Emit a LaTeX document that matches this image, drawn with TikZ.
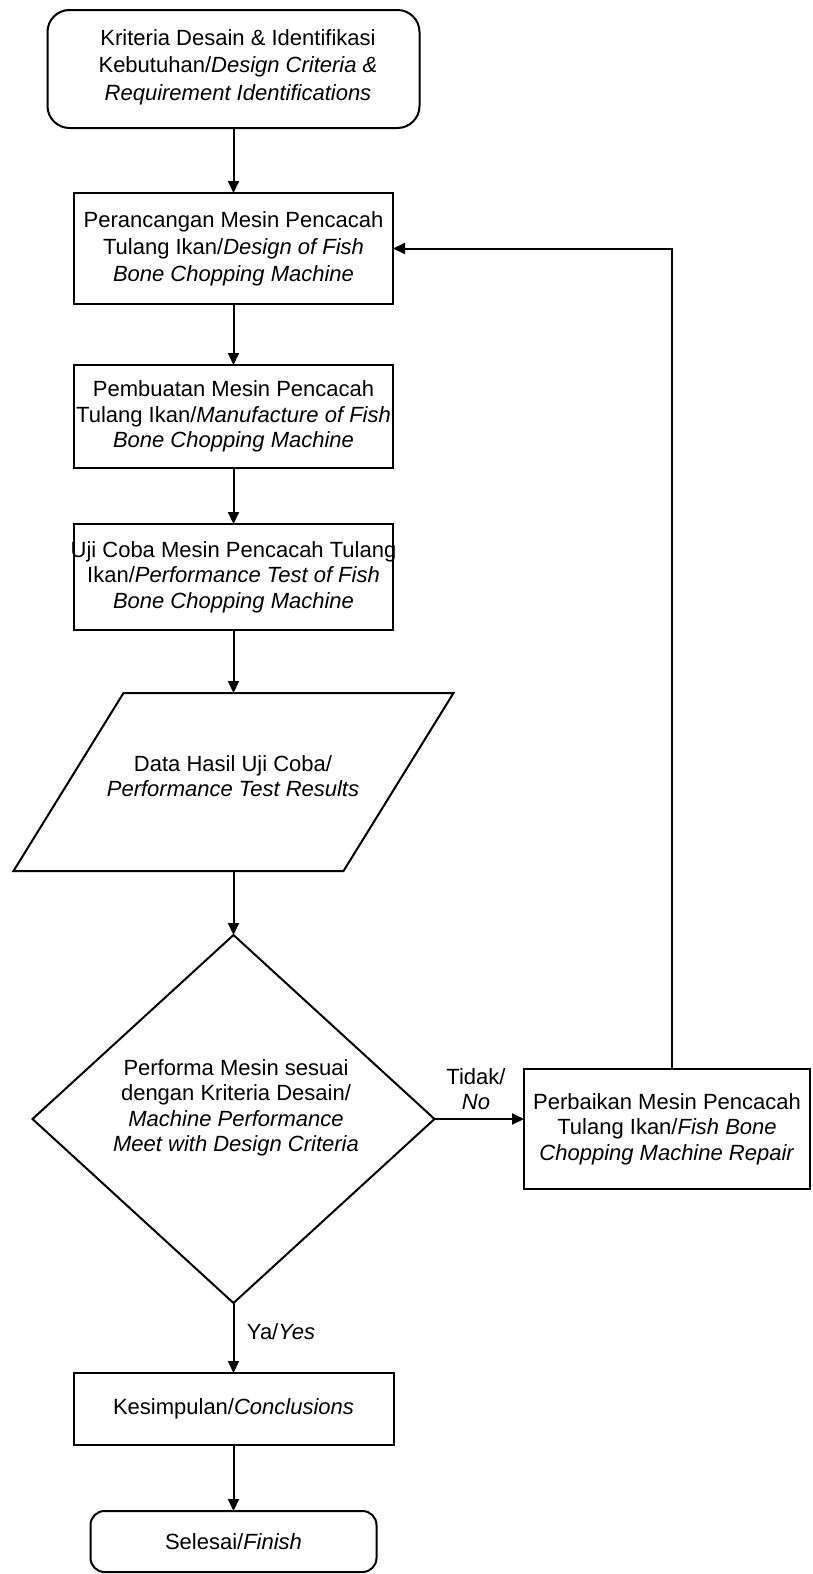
\documentclass[tikz,border=0pt]{standalone}
\usepackage{fontspec}
\setmainfont{Liberation Sans}
\usetikzlibrary{arrows.meta,shapes.geometric}
\begin{document}
\begin{tikzpicture}[x=1pt,y=-1pt,
  every node/.style={inner sep=0pt, outer sep=0pt, font=\fontsize{22}{25.5}\selectfont},
  box/.style={draw, rectangle, line width=2pt, align=center},
  ghost/.style={rectangle, align=center},
  arr/.style={line width=2pt, -{Triangle[length=12pt,width=11pt]}},
  plain/.style={line width=2pt, line join=miter}]
\useasboundingbox (0,0) rectangle (813,1574);
\fill[white] (0,0) rectangle (813,1574);

% start
\node[box, rounded corners=22pt, minimum width=372pt, minimum height=118pt] (start) at (233.5,69) {};
\node[ghost, font=\fontsize{22}{27.5}\selectfont] (starttext) at (238,67)
  {Kriteria Desain \& Identifikasi\\Kebutuhan/\textit{Design Criteria \&}\\\textit{Requirement Identifications}};
% process boxes
\node[box, minimum width=319pt, minimum height=111pt, font=\fontsize{22}{27}\selectfont] (design) at (233.5,248.5)
  {Perancangan Mesin Pencacah\\Tulang Ikan/\textit{Design of Fish}\\\textit{Bone Chopping Machine}};
\node[box, minimum width=319pt, minimum height=103pt] (make) at (233.5,416.5) {};
\node[ghost] (maketext) at (233.5,416.5)
  {Pembuatan Mesin Pencacah\\Tulang Ikan/\textit{Manufacture of Fish}\\\textit{Bone Chopping Machine}};
\node[box, minimum width=319pt, minimum height=106pt] (test) at (233.5,577) {};
\node[ghost] (testtext) at (233.5,577)
  {Uji Coba Mesin Pencacah Tulang\\Ikan/\textit{Performance Test of Fish}\\\textit{Bone Chopping Machine}};
% data (parallelogram)
\node[ghost, minimum width=330pt, minimum height=178pt] (data) at (233.5,782) {};
\draw[plain] ([xshift=55pt]data.north west) -- ([xshift=55pt]data.north east)
  -- ([xshift=-55pt]data.south east) -- ([xshift=-55pt]data.south west) -- cycle;
\node[ghost] (datatext) at (233,776) {Data Hasil Uji Coba/\\\textit{Performance Test Results}};
% decision
\node[draw, line width=2pt, diamond, minimum width=402pt, minimum height=368pt] (dec) at (233.5,1119) {};
\node[ghost] (dectext) at (236,1108)
  {Performa Mesin sesuai\\dengan Kriteria Desain/\\\textit{Machine Performance}\\\textit{Meet with Design Criteria}};
% repair
\node[box, minimum width=286pt, minimum height=120pt] (fix) at (667,1129)
  {Perbaikan Mesin Pencacah\\Tulang Ikan/\textit{Fish Bone}\\\textit{Chopping Machine Repair}};
% conclusion and finish
\node[box, minimum width=320pt, minimum height=72pt] (concl) at (233.5,1409)
  {Kesimpulan/\textit{Conclusions}};
\node[box, rounded corners=14pt, minimum width=286pt, minimum height=61pt] (finish) at (233.5,1541.5)
  {Selesai/\textit{Finish}};

% labels
\node[ghost] (no) at (476,1089) {Tidak/\\\textit{No}};
\node (yes) at (281,1332) {Ya/\textit{Yes}};

% connectors
\draw[arr] (start.south) -- (design.north);
\draw[arr] (design.south) -- (make.north);
\draw[arr] (make.south) -- (test.north);
\draw[arr] (test.south) -- (data.north);
\draw[arr] (data.south) -- (dec.north);
\draw[arr] (dec.east) -- (dec.east -| fix.west);
\draw[arr] ([xshift=5pt]fix.north) |- (design.east);
\draw[arr] (dec.south) -- (concl.north);
\draw[arr] (concl.south) -- (finish.north);
\end{tikzpicture}
\end{document}
